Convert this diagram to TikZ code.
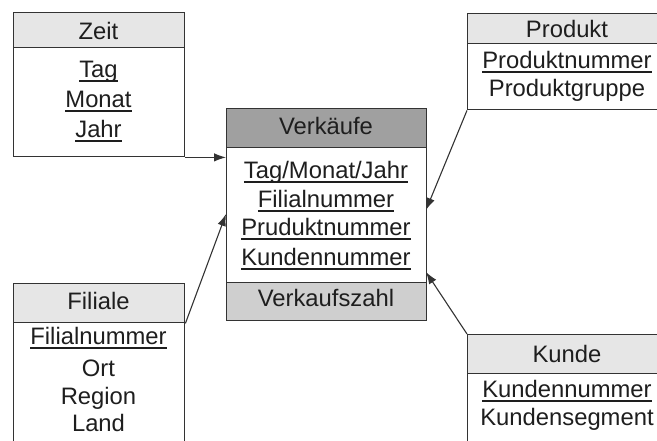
\documentclass[tikz,border=0pt]{standalone}
\usepackage{fontspec}
\setmainfont{Liberation Sans}
\usetikzlibrary{arrows.meta}

% key attributes are underlined with a heavy rule
\newcommand{\keyattr}[1]{\setbox0\hbox{#1}\rlap{\vrule height -2.5pt depth 4.5pt width \wd0}\box0}

\definecolor{frame}{HTML}{333333}
\definecolor{txt}{HTML}{1E1E1E}
\definecolor{hdrlight}{HTML}{E6E6E6}
\definecolor{hdrdark}{HTML}{A0A0A0}
\definecolor{footgrey}{HTML}{CFCFCF}

\begin{document}
\begin{tikzpicture}[x=1pt,y=-1pt,
  part/.style={draw=frame, line width=1.4pt, inner sep=0pt, anchor=north west},
  hdr/.style={part, fill=hdrlight},
  facthdr/.style={part, fill=hdrdark},
  factfoot/.style={part, fill=footgrey},
  body/.style={part, fill=white},
  lbl/.style={anchor=base, inner sep=0pt, text=txt, font=\fontsize{23.8}{28}\selectfont},
  link/.style={draw=frame, line width=1.1pt, -{Latex[length=12pt,width=8.5pt]}}
]
\useasboundingbox (0,0) rectangle (657,440);
\clip (0,0) rectangle (657,440);

% ---- Zeit
\node[hdr,  minimum width=171pt, minimum height=35pt]  (zeitH) at (13,12) {};
\node[body, minimum width=171pt, minimum height=109pt] (zeitB) at (13,47) {};
\node[lbl] (zeitT)  at (98.5,39)  {Zeit};
\node[lbl] (zeitA1) at (98.5,77)  {\keyattr{Tag}};
\node[lbl] (zeitA2) at (98.5,107) {\keyattr{Monat}};
\node[lbl] (zeitA3) at (98.5,137) {\keyattr{Jahr}};

% ---- Verkaeufe (fact table)
\node[facthdr,  minimum width=200pt, minimum height=39pt]  (vkH) at (226,108) {};
\node[body,     minimum width=200pt, minimum height=135pt] (vkB) at (226,147) {};
\node[factfoot, minimum width=200pt, minimum height=38pt]  (vkF) at (226,282) {};
\node[lbl] (vkT)  at (326,134) {Verkäufe};
\node[lbl] (vkA1) at (326,178) {\keyattr{Tag/Monat/Jahr}};
\node[lbl] (vkA2) at (326,207) {\keyattr{Filialnummer}};
\node[lbl] (vkA3) at (326,235) {\keyattr{Pruduktnummer}};
\node[lbl] (vkA4) at (326,265) {\keyattr{Kundennummer}};
\node[lbl] (vkM)  at (326,306) {Verkaufszahl};

% ---- Produkt
\node[hdr,  minimum width=200pt, minimum height=30pt] (prH) at (467,13) {};
\node[body, minimum width=200pt, minimum height=66pt] (prB) at (467,43) {};
\node[lbl] (prT)  at (567,37) {Produkt};
\node[lbl] (prA1) at (567,68) {\keyattr{Produktnummer}};
\node[lbl] (prA2) at (567,96) {Produktgruppe};

% ---- Filiale
\node[hdr,  minimum width=171pt, minimum height=39pt]  (fiH) at (13,283) {};
\node[body, minimum width=171pt, minimum height=140pt] (fiB) at (13,322) {};
\node[lbl] (fiT)  at (98.5,309) {Filiale};
\node[lbl] (fiA1) at (98.5,344) {\keyattr{Filialnummer}};
\node[lbl] (fiA2) at (98.5,376) {Ort};
\node[lbl] (fiA3) at (98.5,404) {Region};
\node[lbl] (fiA4) at (98.5,431) {Land};

% ---- Kunde
\node[hdr,  minimum width=200pt, minimum height=39pt]  (kuH) at (467,334) {};
\node[body, minimum width=200pt, minimum height=100pt] (kuB) at (467,373) {};
\node[lbl] (kuT)  at (567,362) {Kunde};
\node[lbl] (kuA1) at (567,397) {\keyattr{Kundennummer}};
\node[lbl] (kuA2) at (567,425) {Kundensegment};

% ---- connectors into the fact table
\coordinate (inFi) at (226,214);
\coordinate (inPr) at (426,210);
\coordinate (inKu) at (426,272);
\draw[link] (zeitB.south east) -- (zeitB.south east -| vkB.west);
\draw[link] (fiH.south east) -- (inFi);
\draw[link] (prB.south west) -- (inPr);
\draw[link] (kuH.north west) -- (inKu);
\end{tikzpicture}
\end{document}
